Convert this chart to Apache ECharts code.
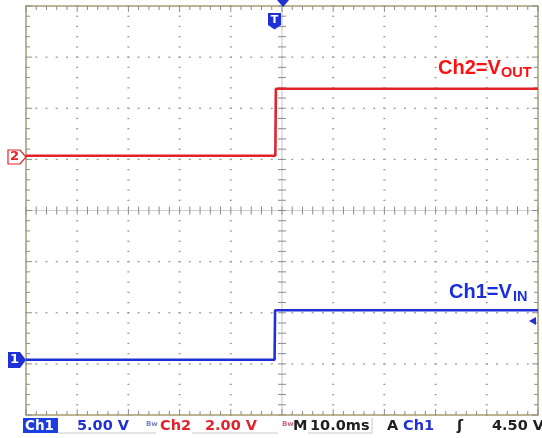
<!DOCTYPE html>
<html><head><meta charset="utf-8">
<script src="https://cdn.jsdelivr.net/npm/echarts@6/dist/echarts.min.js"></script>
<style>html,body{margin:0;padding:0;background:#fff}#c{width:542px;height:438px}</style>
</head><body><div id="c"></div>
<script>
// ---- data ----
const ch1Time = [-50, -1.45, -1.35, 50];      // ms
const ch1Volts = [0, 0, 4.85, 4.85];          // V  (Ch1 = VIN, 5 V/div)
const ch2Time = [-50, -1.3, -1.2, 50];        // ms
const ch2Volts = [0, 0, 2.62, 2.62];          // V  (Ch2 = VOUT, 2 V/div)
const ch1VoltsPerDiv = 5, ch2VoltsPerDiv = 2;
const ch1GroundDiv = -2.92, ch2GroundDiv = 1.07;
const timePerDivMs = 10;
const statusTexts = ['Ch1', '5.00 V', 'Ch2', '2.00 V', 'M', '10.0ms', 'A', 'Ch1', 'ʃ', '4.50 V'];

const RED = '#e3232a', BLUE = '#1f30d4';
const chart = echarts.init(document.getElementById('c'), null, {renderer: 'canvas'});

function graticule(params, api) {
  const ch = [];
  const P = (x, y) => api.coord([x, y]);
  const dot = '#9a9a9a', tick = '#8c8c8c', border = '#a69d70';
  const line = (a, b, color, w) => ch.push({type: 'line', shape: {x1: a[0], y1: a[1], x2: b[0], y2: b[1]}, style: {stroke: color, lineWidth: w || 1}});
  const minorT = timePerDivMs / 5;
  for (let i = -4; i <= 4; i++) {
    if (i === 0) continue;
    for (let k = -20; k <= 20; k++) {
      const p = P(i * timePerDivMs, k * 0.2);
      ch.push({type: 'rect', shape: {x: p[0] - 1, y: p[1] - 0.6, width: 2, height: 1.3}, style: {fill: dot}});
    }
  }
  for (let j = -3; j <= 3; j++) {
    if (j === 0) continue;
    for (let k = -25; k <= 25; k++) {
      const p = P(k * minorT, j);
      ch.push({type: 'rect', shape: {x: p[0] - 1, y: p[1] - 0.6, width: 2, height: 1.3}, style: {fill: dot}});
    }
  }
  line(P(-50, 0), P(50, 0), '#d0d0d0', 1);
  line(P(0, -4), P(0, 4), '#c4c4cc', 1);
  for (let k = -25; k <= 25; k++) {
    const p = P(k * minorT, 0);
    line([p[0], p[1] - 4], [p[0], p[1] + 4], tick, 1);
  }
  for (let k = -20; k <= 20; k++) {
    const p = P(0, k * 0.2);
    line([p[0] - 4, p[1]], [p[0] + 4, p[1]], tick, 1);
  }
  const tl = P(-50, 4), br = P(50, -4);
  ch.push({type: 'rect', shape: {x: tl[0], y: tl[1], width: br[0] - tl[0], height: br[1] - tl[1]}, style: {fill: 'none', stroke: border, lineWidth: 1.5}});
  for (let k = -25; k <= 25; k++) {
    const t = P(k * minorT, 4), b = P(k * minorT, -4);
    const len = (k % 5 === 0) ? 6 : 4;
    line(t, [t[0], t[1] + len], tick, 1);
    line(b, [b[0], b[1] - len], tick, 1);
  }
  for (let k = -20; k <= 20; k++) {
    const l = P(-50, k * 0.2), r = P(50, k * 0.2);
    const len = (k % 5 === 0) ? 6 : 4;
    line(l, [l[0] + len, l[1]], tick, 1);
    line(r, [r[0] - len, r[1]], tick, 1);
  }
  return {type: 'group', children: ch};
}

const st = (text, x, color, size) => ({
  type: 'text', z: 10,
  style: {text: text, x: x, y: 426.5, fill: color, font: 'bold ' + (size || 14.5) + 'px "DejaVu Sans"', verticalAlign: 'middle', textVerticalAlign: 'middle'}
});

chart.setOption({
  animation: false,
  backgroundColor: '#ffffff',
  grid: {left: 26, top: 6, right: 4, bottom: 23},
  xAxis: [{type: 'value', min: -5 * timePerDivMs, max: 5 * timePerDivMs, show: false}],
  yAxis: [
    {type: 'value', min: -4, max: 4, show: false},
    {type: 'value', min: (-4 - ch1GroundDiv) * ch1VoltsPerDiv, max: (4 - ch1GroundDiv) * ch1VoltsPerDiv, show: false},
    {type: 'value', min: (-4 - ch2GroundDiv) * ch2VoltsPerDiv, max: (4 - ch2GroundDiv) * ch2VoltsPerDiv, show: false}
  ],
  series: [
    {type: 'custom', name: 'graticule', xAxisIndex: 0, yAxisIndex: 0, silent: true, z: 1, data: [[0, 0]], renderItem: graticule},
    {type: 'line', name: 'Ch2', xAxisIndex: 0, yAxisIndex: 2, z: 3, showSymbol: false, silent: true,
     data: ch2Time.map((t, i) => [t, ch2Volts[i]]), lineStyle: {color: RED, width: 2.6}},
    {type: 'line', name: 'Ch1', xAxisIndex: 0, yAxisIndex: 1, z: 3, showSymbol: false, silent: true,
     data: ch1Time.map((t, i) => [t, ch1Volts[i]]), lineStyle: {color: BLUE, width: 2.6}}
  ],
  graphic: [
    {type: 'text', z: 10, style: {text: 'Ch2=V', x: 438, y: 68, fill: '#ff1010', font: 'bold 20px "Liberation Sans"', verticalAlign: 'middle', textVerticalAlign: 'middle'}},
    {type: 'text', z: 10, style: {text: 'OUT', x: 501, y: 72.7, fill: '#ff1010', font: 'bold 14.5px "Liberation Sans"', verticalAlign: 'middle', textVerticalAlign: 'middle'}},
    {type: 'text', z: 10, style: {text: 'Ch1=V', x: 449, y: 292, fill: '#1a2ee0', font: 'bold 20px "Liberation Sans"', verticalAlign: 'middle', textVerticalAlign: 'middle'}},
    {type: 'text', z: 10, style: {text: 'IN', x: 513, y: 297, fill: '#1a2ee0', font: 'bold 14.5px "Liberation Sans"', verticalAlign: 'middle', textVerticalAlign: 'middle'}},
    {type: 'polygon', z: 10, shape: {points: [[8, 150], [20, 150], [26, 157], [20, 164], [8, 164]]}, style: {fill: '#fff', stroke: RED, lineWidth: 1.2}},
    {type: 'text', z: 11, style: {text: '2', x: 14.5, y: 157, fill: RED, font: 'bold 13px "DejaVu Sans"', align: 'center', textAlign: 'center', verticalAlign: 'middle', textVerticalAlign: 'middle'}},
    {type: 'polygon', z: 10, shape: {points: [[8, 352], [20, 352], [26, 360], [20, 368], [8, 368]]}, style: {fill: BLUE}},
    {type: 'text', z: 11, style: {text: '1', x: 14.5, y: 360, fill: '#fff', font: 'bold 13px "DejaVu Sans"', align: 'center', textAlign: 'center', verticalAlign: 'middle', textVerticalAlign: 'middle'}},
    {type: 'polygon', z: 10, shape: {points: [[277, 0], [289, 0], [283, 7]]}, style: {fill: BLUE}},
    {type: 'polygon', z: 10, shape: {points: [[268, 13], [281, 13], [281, 25], [274.5, 29.5], [268, 25]]}, style: {fill: BLUE}},
    {type: 'text', z: 11, style: {text: 'T', x: 274.5, y: 20.5, fill: '#fff', font: 'bold 11px "DejaVu Sans"', align: 'center', textAlign: 'center', verticalAlign: 'middle', textVerticalAlign: 'middle'}},
    {type: 'polygon', z: 10, shape: {points: [[529, 321], [536, 317], [536, 325]]}, style: {fill: BLUE}},
    {type: 'rect', z: 9, shape: {x: 23, y: 418, width: 35, height: 15}, style: {fill: '#1b3ee0'}},
    {type: 'line', z: 9, shape: {x1: 58, y1: 433, x2: 156, y2: 433}, style: {stroke: '#c8c8c8', lineWidth: 1}},
    {type: 'line', z: 9, shape: {x1: 192, y1: 433, x2: 278, y2: 433}, style: {stroke: '#c8c8c8', lineWidth: 1}},
    {type: 'line', z: 9, shape: {x1: 308, y1: 433, x2: 372, y2: 433}, style: {stroke: '#c8c8c8', lineWidth: 1}},
    {type: 'line', z: 9, shape: {x1: 372, y1: 418, x2: 372, y2: 433}, style: {stroke: '#c8c8c8', lineWidth: 1}},
    st(statusTexts[0], 25, '#ffffff', 13.5),
    st(statusTexts[1], 77, BLUE),
    {type: 'text', z: 10, style: {text: 'Bw', x: 146, y: 424, fill: '#7a86c8', font: 'bold 7px "DejaVu Sans"', verticalAlign: 'middle', textVerticalAlign: 'middle'}},
    st(statusTexts[2], 160, RED),
    st(statusTexts[3], 205, RED),
    {type: 'text', z: 10, style: {text: 'Bw', x: 282, y: 424, fill: '#c86a7a', font: 'bold 7px "DejaVu Sans"', verticalAlign: 'middle', textVerticalAlign: 'middle'}},
    st(statusTexts[4], 293, '#202020'),
    st(statusTexts[5], 310, '#202020'),
    st(statusTexts[6], 387, '#202020'),
    st(statusTexts[7], 403, BLUE),
    st(statusTexts[8], 457, '#202020'),
    st(statusTexts[9], 492, '#202020')
  ]
});
</script></body></html>
